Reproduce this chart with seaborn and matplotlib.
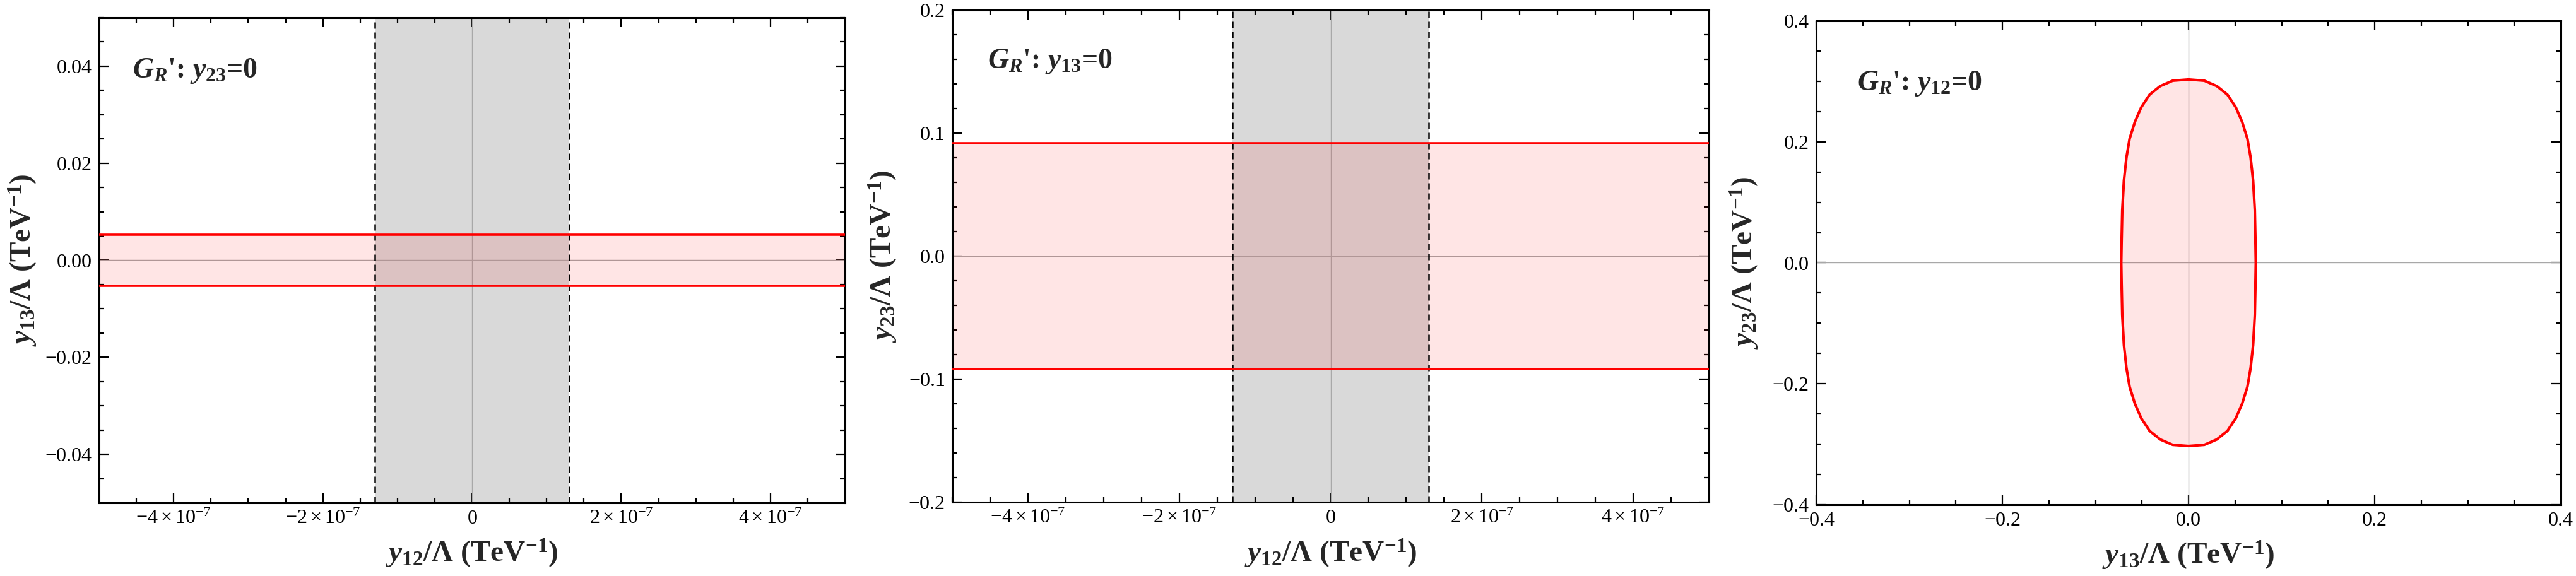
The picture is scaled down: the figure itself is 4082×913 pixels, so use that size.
import numpy as np
import matplotlib
matplotlib.use("Agg")
import matplotlib.pyplot as plt
import seaborn as sns
from matplotlib.ticker import MultipleLocator

# ---- data ----
y12_lim = [-5e-7, 5e-7]          # x range of panels 1 and 2
y12_bound = 1.3e-7               # |y12| bound (gray band)
y13_bound = 0.0053               # |y13| bound (panel 1, red band)
y23_bound = 0.092                # |y23| bound (panel 2, red band)

# allowed region in (y13, y23) plane, upper-right quarter of the contour
ell_y13 = [0.0, 0.0170, 0.0305, 0.0418, 0.0508, 0.0576, 0.0633, 0.0667, 0.0694, 0.0712, 0.0719, 0.0723]
ell_y23 = [0.303, 0.301, 0.292, 0.278, 0.257, 0.233, 0.205, 0.174, 0.136, 0.087, 0.035, 0.0]

x12_ticks = [-4e-7, -2e-7, 0, 2e-7, 4e-7]
x12_labels = [r"$-4\times10^{-7}$", r"$-2\times10^{-7}$", r"$0$", r"$2\times10^{-7}$", r"$4\times10^{-7}$"]
y13_ticks = [-0.04, -0.02, 0.0, 0.02, 0.04]
y13_labels = ["\u22120.04", "\u22120.02", "0.00", "0.02", "0.04"]
y23_ticks = [-0.2, -0.1, 0.0, 0.1, 0.2]
y23_labels = ["\u22120.2", "\u22120.1", "0.0", "0.1", "0.2"]
p3_ticks = [-0.4, -0.2, 0.0, 0.2, 0.4]
p3_labels = ["\u22120.4", "\u22120.2", "0.0", "0.2", "0.4"]

titles = ["$G_R$': $y_{\\mathbf{23}}$=0", "$G_R$': $y_{\\mathbf{13}}$=0", "$G_R$': $y_{\\mathbf{12}}$=0"]
lab_y12 = "$y_{\\mathbf{12}}$/\u039b (TeV$^{\\mathbf{-1}}$)"
lab_y13 = "$y_{\\mathbf{13}}$/\u039b (TeV$^{\\mathbf{-1}}$)"
lab_y23 = "$y_{\\mathbf{23}}$/\u039b (TeV$^{\\mathbf{-1}}$)"

RED = "#ff0000"
GRAY = "#d9d9d9"
LAB = 34
TICK = 23
ANN = 33

sns.set_theme(style="ticks")
plt.rcParams["font.family"] = ["Liberation Serif", "DejaVu Serif"]
plt.rcParams["mathtext.fontset"] = "custom"
plt.rcParams["mathtext.rm"] = "Liberation Serif"
plt.rcParams["mathtext.it"] = "Liberation Serif:italic:bold"
plt.rcParams["mathtext.bf"] = "Liberation Serif:bold"

fig = plt.figure(figsize=(40.82, 9.13), dpi=100)
W, H = 4082, 913


def add_axes(l, r, t, b):
    return fig.add_axes([l / W, (H - b) / H, (r - l) / W, (b - t) / H])


def style(ax, xmin, ymin):
    ax.xaxis.set_minor_locator(MultipleLocator(xmin))
    ax.yaxis.set_minor_locator(MultipleLocator(ymin))
    ax.tick_params(which="both", direction="in", top=True, right=True,
                   width=1.6, colors="black", labelsize=TICK, pad=8)
    ax.tick_params(which="major", length=11)
    ax.tick_params(which="minor", length=6)
    for s in ax.spines.values():
        s.set_linewidth(2.2)
        s.set_color("black")
    ax.axhline(0, color="#a8a8a8", lw=1.0, zorder=1)
    ax.axvline(0, color="#a8a8a8", lw=1.0, zorder=1)


def gray_band(ax):
    ax.axvspan(-y12_bound, y12_bound, color=GRAY, lw=0, zorder=0)
    for xv in (-y12_bound, y12_bound):
        ax.axvline(xv, color="black", lw=1.8, ls=(0, (4, 2.4)), zorder=3)


def red_band(ax, bound):
    ax.fill_between(y12_lim, [-bound, -bound], [bound, bound], color=RED, alpha=0.1, lw=0, zorder=2)
    for yv in (-bound, bound):
        sns.lineplot(x=y12_lim, y=[yv, yv], color=RED, lw=2.6, ax=ax, zorder=4)


def labels(ax, xl, yl, ylx, title, tx, ty):
    ax.set_xlabel(xl, fontsize=LAB, fontweight="bold")
    ax.set_ylabel(yl, fontsize=LAB, fontweight="bold", va="center")
    ax.xaxis.set_label_coords(0.5, -0.072)
    ax.yaxis.set_label_coords(ylx, 0.5)
    ax.text(tx, ty, title, transform=ax.transAxes, fontsize=ANN,
            fontweight="bold", ha="left", va="center")


# ---- panel 1 ----
ax1 = add_axes(157, 1339, 28, 797)
gray_band(ax1)
red_band(ax1, y13_bound)
ax1.set_xlim(*y12_lim)
ax1.set_ylim(-0.05, 0.05)
ax1.set_xticks(x12_ticks, x12_labels)
ax1.set_yticks(y13_ticks, y13_labels)
style(ax1, 0.5e-7, 0.005)
labels(ax1, lab_y12, lab_y13, -0.102, titles[0], 0.045, 0.89)

# ---- panel 2 ----
ax2 = add_axes(1509, 2708, 16, 796)
gray_band(ax2)
red_band(ax2, y23_bound)
ax2.set_xlim(*y12_lim)
ax2.set_ylim(-0.2, 0.2)
ax2.set_xticks(x12_ticks, x12_labels)
ax2.set_yticks(y23_ticks, y23_labels)
style(ax2, 0.5e-7, 0.02)
labels(ax2, lab_y12, lab_y23, -0.091, titles[1], 0.047, 0.895)

# ---- panel 3 ----
ax3 = add_axes(2878, 4058, 33, 800)
qx = np.array(ell_y13)
qy = np.array(ell_y23)
cx = np.concatenate([qx, qx[::-1][1:], -qx[1:], -qx[::-1][1:]])
cy = np.concatenate([qy, -qy[::-1][1:], -qy[1:], qy[::-1][1:]])
ax3.fill(cx, cy, color=RED, alpha=0.1, lw=0, zorder=2)
sns.lineplot(x=cx, y=cy, sort=False, estimator=None, color=RED, lw=3.0, ax=ax3, zorder=4)
ax3.set_xlim(-0.4, 0.4)
ax3.set_ylim(-0.4, 0.4)
ax3.set_xticks(p3_ticks, p3_labels)
ax3.set_yticks(p3_ticks, p3_labels)
style(ax3, 0.05, 0.05)
labels(ax3, lab_y13, lab_y23, -0.096, titles[2], 0.055, 0.87)

fig.savefig("out.png", dpi=100)
